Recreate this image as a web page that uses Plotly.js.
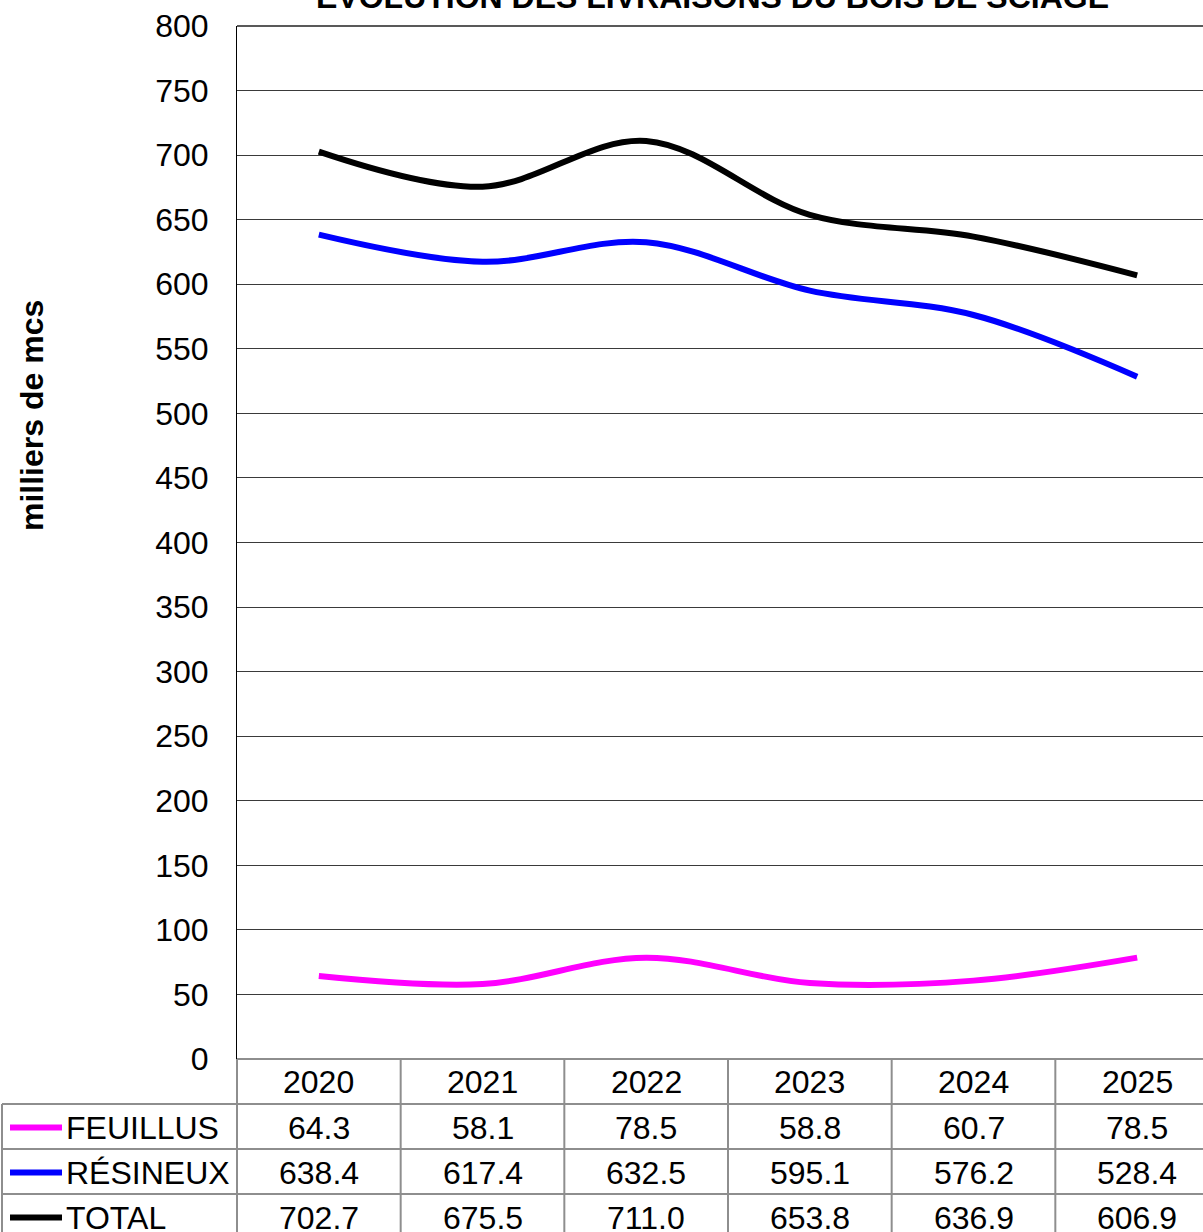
<!DOCTYPE html>
<html>
<head>
<meta charset="utf-8">
<script src="https://cdn.plot.ly/plotly-3.0.1.min.js"></script>
<style>
html,body{margin:0;padding:0;overflow:hidden;background:#fff;}
#chart{width:1219px;height:1232px;}
</style>
</head>
<body>
<div id="chart"></div>
<script>
const years = ["2020", "2021", "2022", "2023", "2024", "2025"];
const feuillus = [64.3, 58.1, 78.5, 58.8, 60.7, 78.5];
const resineux = [638.4, 617.4, 632.5, 595.1, 576.2, 528.4];
const total = [702.7, 675.5, 711.0, 653.8, 636.9, 606.9];
const seriesNames = ["FEUILLUS", "RÉSINEUX", "TOTAL"];
const seriesColors = ["#FF00FF", "#0000FF", "#000000"];
const seriesValues = [feuillus, resineux, total];
const yTicks = [0, 50, 100, 150, 200, 250, 300, 350, 400, 450, 500, 550, 600, 650, 700, 750, 800];

const FONT = "Arial, 'Liberation Sans', sans-serif";
const FS = 32;
const W = 1219, H = 1232;
const mL = 237, mT = 26, mB = 173;
const plotW = W - mL, plotH = H - mT - mB;
const px2paperX = p => (p - mL) / plotW;
const px2paperY = p => (H - mB - p) / plotH;

const traces = seriesValues.map((vals, i) => ({
  x: years, y: vals, type: "scatter", mode: "lines", name: seriesNames[i],
  line: {color: seriesColors[i], width: 6, shape: "spline", smoothing: 1},
  hoverinfo: "x+y+name"
}));

const gray = "#8e8e8e";
const rowTop = [1059, 1104, 1149, 1194, 1239];
const shapes = [];
const annotations = [];
// top frame line at 800
shapes.push({type: "line", xref: "paper", yref: "paper", x0: 0, x1: 1, y0: 1, y1: 1, line: {color: "#222", width: 1.5}});
// horizontal table lines
shapes.push({type: "line", xref: "paper", yref: "paper", x0: 0, x1: 1, y0: px2paperY(rowTop[0]), y1: px2paperY(rowTop[0]), line: {color: gray, width: 2}});
for (let r = 1; r < 4; r++) {
  shapes.push({type: "line", xref: "paper", yref: "paper", x0: px2paperX(2), x1: 1, y0: px2paperY(rowTop[r]), y1: px2paperY(rowTop[r]), line: {color: gray, width: 2}});
}
// vertical table lines
shapes.push({type: "line", xref: "paper", yref: "paper", x0: px2paperX(2), x1: px2paperX(2), y0: px2paperY(rowTop[1]), y1: px2paperY(1240), line: {color: gray, width: 2}});
shapes.push({type: "line", xref: "paper", yref: "paper", x0: 0, x1: 0, y0: px2paperY(rowTop[0]), y1: px2paperY(1240), line: {color: gray, width: 2}});
for (let k = 0; k < years.length - 1; k++) {
  shapes.push({type: "line", xref: "x", yref: "paper", x0: k + 0.5, x1: k + 0.5, y0: px2paperY(rowTop[0]), y1: px2paperY(1240), line: {color: gray, width: 2}});
}
// header row (years)
years.forEach((yr, k) => {
  annotations.push({xref: "x", yref: "paper", x: k, y: px2paperY(1082), text: yr, showarrow: false, xanchor: "center", yanchor: "middle", font: {family: FONT, size: FS, color: "#000"}});
});
// data rows
seriesValues.forEach((vals, r) => {
  const cy = px2paperY((rowTop[r + 1] + rowTop[r + 2]) / 2 + 1);
  shapes.push({type: "line", xref: "paper", yref: "paper", x0: px2paperX(10), x1: px2paperX(62), y0: cy, y1: cy, line: {color: seriesColors[r], width: 6}});
  annotations.push({xref: "paper", yref: "paper", x: px2paperX(64), y: cy, text: seriesNames[r], showarrow: false, xanchor: "left", yanchor: "middle", font: {family: FONT, size: FS, color: "#000"}});
  vals.forEach((v, k) => {
    annotations.push({xref: "x", yref: "paper", x: k, y: cy, text: v.toFixed(1), showarrow: false, xanchor: "center", yanchor: "middle", font: {family: FONT, size: FS, color: "#000"}});
  });
});
// y axis title
annotations.push({xref: "paper", yref: "paper", x: px2paperX(32), y: px2paperY(416), text: "<b>milliers de mcs</b>", textangle: -90, showarrow: false, xanchor: "center", yanchor: "middle", font: {family: FONT, size: FS, color: "#000"}});
// chart title
annotations.push({xref: "paper", yref: "paper", x: px2paperX(712), y: px2paperY(17), text: "<b>ÉVOLUTION DES LIVRAISONS DU BOIS DE SCIAGE</b>", showarrow: false, xanchor: "center", yanchor: "bottom", font: {family: "'Liberation Sans Narrow', 'Arial Narrow', Arial, sans-serif", size: 32, color: "#000"}});

const layout = {
  width: W, height: H,
  margin: {l: mL, r: 0, t: mT, b: mB, pad: 0},
  paper_bgcolor: "#fff", plot_bgcolor: "#fff",
  showlegend: false,
  xaxis: {type: "category", range: [-0.5, 5.5], showticklabels: false, showgrid: false, zeroline: false, showline: false, ticks: "", fixedrange: true},
  yaxis: {range: [0, 800], tickvals: yTicks, ticktext: yTicks.map(String), showgrid: true, gridcolor: "#3a3a3a", gridwidth: 1, zeroline: false, showline: true, linecolor: "#000", linewidth: 1, ticks: "", ticklabelstandoff: 21, tickfont: {family: FONT, size: FS, color: "#000"}, fixedrange: true},
  shapes: shapes,
  annotations: annotations
};
Plotly.newPlot("chart", traces, layout, {displayModeBar: false, staticPlot: true});
</script>
</body>
</html>
